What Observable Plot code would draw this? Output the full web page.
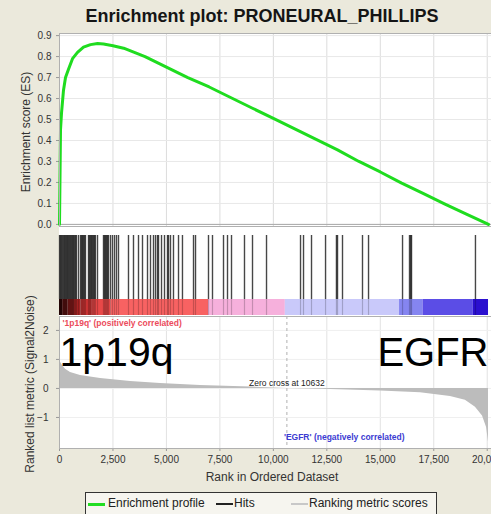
<!DOCTYPE html>
<html><head><meta charset="utf-8">
<script src="https://cdn.jsdelivr.net/npm/d3@7"></script>
<script src="https://cdn.jsdelivr.net/npm/@observablehq/plot@0.6"></script>
<style>
html,body{margin:0;padding:0;overflow:hidden;background:#ebe9dc;}
#c{position:relative;width:491px;height:514px;overflow:hidden;background:#ebe9dc;font-family:"Liberation Sans",Arial,sans-serif;color:#333;}
#c svg{position:absolute;left:0;overflow:visible;}
.lbl{position:absolute;white-space:nowrap;font-size:12px;color:#333;transform:translate(-50%,-50%);}
.rot{transform:translate(-50%,-50%) rotate(-90deg);}
</style></head><body><div id="c"></div>
<script>
const title = "Enrichment plot: PRONEURAL_PHILLIPS";
const xTicks = [0,2500,5000,7500,10000,12500,15000,17500,20000];
const esTicks = [0,0.1,0.2,0.3,0.4,0.5,0.6,0.7,0.8,0.9];
const metricTicks = [-1,0,1,2];
const zeroCross = 10632;

const esRanks  = [0,47,94,187,281,421,608,842,1122,1450,1780,2060,2500,3000,4000,4500,5000,6000,7000,8000,9000,10000,11000,12000,13000,14000,15000,16000,17000,18000,19000,20060];
const esValues = [0,0.45,0.53,0.64,0.70,0.74,0.79,0.82,0.845,0.857,0.862,0.86,0.852,0.84,0.80,0.775,0.75,0.70,0.655,0.605,0.555,0.505,0.455,0.405,0.355,0.30,0.25,0.197,0.148,0.098,0.05,0.0];

const hitRanks = [3,45,92,138,190,236,280,330,372,420,466,515,560,610,652,700,750,792,888,982,1030,1075,1120,1170,1215,1356,1400,1450,1495,1540,1590,1635,1680,1777,2057,2105,2150,2198,2245,2290,2385,2478,2572,2665,2759,3226,3460,3694,3881,4115,4255,4395,4490,4582,4630,4770,4910,5050,5097,5190,5330,5565,5750,6266,6360,6967,7154,7669,7856,8043,8650,9025,9680,11270,11410,11784,12440,12950,13000,13233,14168,14450,16040,16366,16420,16460,19450];

const barStarts = [0,150,400,700,1000,1500,2400,6970,10560,15900,17000,19350];
const barEnds   = [150,400,700,1000,1500,2400,6970,10560,15900,17000,19350,20060];
const barColors = ["#2e0808","#561212","#7f1a1a","#a82424","#cc3434","#e84848","#f86262","#f6b0dc","#c9c9fa","#8585f0","#5b4de6","#2b10cf"];

const metricRanks  = [0,47,140,280,515,980,1920,3320,4720,6590,8930,10632,12670,15010,16880,18280,18980,19450,19780,19970,20060];
const metricValues = [1.0,0.9,0.79,0.66,0.55,0.45,0.34,0.24,0.17,0.10,0.05,0,-0.04,-0.09,-0.15,-0.28,-0.41,-0.65,-0.95,-1.35,-1.85];

const legendItems = ["Enrichment profile","Hits","Ranking metric scores"];
const legendColors = ["#22dd22","#222","#c8c8c8"];

const xDomain = [0,20200];
const ff = "'Liberation Sans', Arial, sans-serif";
const esData = esRanks.map((r,i)=>({rank:r, es:esValues[i]}));
const metric = metricRanks.map((r,i)=>({rank:r, v:metricValues[i]}));
const segs = barStarts.map((s,i)=>({start:s,end:barEnds[i],color:barColors[i]}));

const c = document.getElementById("c");
function div(text, css, cls){const d=document.createElement("div");d.textContent=text;if(cls)d.className=cls;d.style.cssText=css;c.appendChild(d);return d;}

div("", "position:absolute;left:59px;top:33px;width:432px;height:415px;background:#fff;");
div(title, "position:absolute;left:30px;top:6px;width:464px;text-align:center;font-size:18px;font-weight:bold;color:#151515;");

const base = {width:491, marginLeft:59, marginRight:0, style:{background:"transparent", fontFamily:ff, fontSize:"10px", color:"#333"}};

const p1 = Plot.plot({...base, height:200, marginTop:5, marginBottom:2,
  x:{domain:xDomain, axis:null},
  y:{domain:[-0.01,0.91]},
  marks:[
    Plot.gridX(xTicks,{stroke:"#dcdcdc",strokeOpacity:1}),
    Plot.gridY(esTicks,{stroke:"#e8e8e8",strokeOpacity:1}),
    Plot.ruleY([0],{stroke:"#a8a8a8"}),
    Plot.axisY(esTicks,{tickFormat:d3.format(".1f"),tickSize:3,tickPadding:5,label:null,stroke:"#999"}),
    Plot.line(esData,{x:"rank",y:"es",stroke:"#1fdc1f",strokeWidth:3}),
    Plot.frame({stroke:"#b0b0b0"})
  ]});
p1.style.top = "28px"; c.appendChild(p1);

const p2 = Plot.plot({...base, height:90, marginTop:9, marginBottom:1,
  x:{domain:xDomain, axis:null},
  color:{type:"identity"},
  marks:[
    Plot.rect(segs,{x1:"start",x2:"end",fill:"color",insetTop:64}),
    Plot.ruleX(hitRanks,{stroke:"#000",strokeOpacity:0.72,strokeWidth:1.4,insetBottom:16}),
    Plot.ruleX(hitRanks,{stroke:"#000",strokeOpacity:0.2,strokeWidth:1.2,insetTop:64})
  ]});
p2.style.top = "226px"; c.appendChild(p2);

const p3 = Plot.plot({...base, height:150, marginTop:0, marginBottom:18,
  x:{domain:xDomain},
  y:{domain:[-2.07,2.48]},
  marks:[
    Plot.gridX(xTicks,{stroke:"#e2e2e2",strokeOpacity:1}),
    Plot.gridY(metricTicks,{stroke:"#efefef",strokeOpacity:1}),
    Plot.areaY(metric,{x:"rank",y:"v",fill:"#bcbcbc"}),
    Plot.ruleX([zeroCross],{stroke:"#b0b0b0",strokeDasharray:"3,3"}),
    Plot.axisY(metricTicks,{tickSize:3,tickPadding:8,label:null,stroke:"#999"}),
    Plot.axisX(xTicks,{tickFormat:d3.format(","),tickSize:3,tickPadding:4,label:null,stroke:"#999"}),
    Plot.text(["'1p19q' (positively correlated)"],{text:d=>d,frameAnchor:"top-left",textAnchor:"start",lineAnchor:"top",dx:3,dy:3,fill:"#ec4c5c",fontSize:8.5,fontWeight:"bold"}),
    Plot.text(["'EGFR' (negatively correlated)"],{text:d=>d,x:()=>zeroCross,frameAnchor:"bottom",textAnchor:"start",dx:-3,dy:-9,fill:"#3c3cd2",fontSize:8.5,fontWeight:"bold"}),
    Plot.text(["Zero cross at "+zeroCross],{text:d=>d,x:()=>zeroCross,y:()=>0,dy:-5,fill:"#222",fontSize:8.5}),
    Plot.text(["1p19q"],{text:d=>d,frameAnchor:"top-left",textAnchor:"start",lineAnchor:"bottom",dx:0,dy:49,fill:"#000",fontSize:41}),
    Plot.text(["EGFR"],{text:d=>d,frameAnchor:"top-right",textAnchor:"end",lineAnchor:"bottom",dx:-3,dy:49,fill:"#000",fontSize:40}),
    Plot.frame({stroke:"#b0b0b0"})
  ]});
p3.style.top = "316px"; c.appendChild(p3);

div("Enrichment score (ES)", "left:26px;top:132px;", "lbl rot");
div("Ranked list metric (Signal2Noise)", "left:30px;top:384px;", "lbl rot");
div("Rank in Ordered Dataset", "left:272px;top:477px;", "lbl");

const lg = document.createElement("div");
lg.style.cssText = "position:absolute;left:85px;top:492px;width:350px;height:30px;border:1px solid #333;background:#f6f5ef;font-size:12px;color:#222;";
c.appendChild(lg);
const pos = [[2,22],[130,148],[205,223]];
legendItems.forEach((t,i)=>{
  const sw=document.createElement("div");
  sw.style.cssText=`position:absolute;left:${pos[i][0]}px;top:10px;width:17px;height:${i===0?3:2}px;background:${legendColors[i]};`;
  lg.appendChild(sw);
  const tx=document.createElement("div");
  tx.textContent=t;
  tx.style.cssText=`position:absolute;left:${pos[i][1]}px;top:3px;white-space:nowrap;`;
  lg.appendChild(tx);
});
</script></body></html>
